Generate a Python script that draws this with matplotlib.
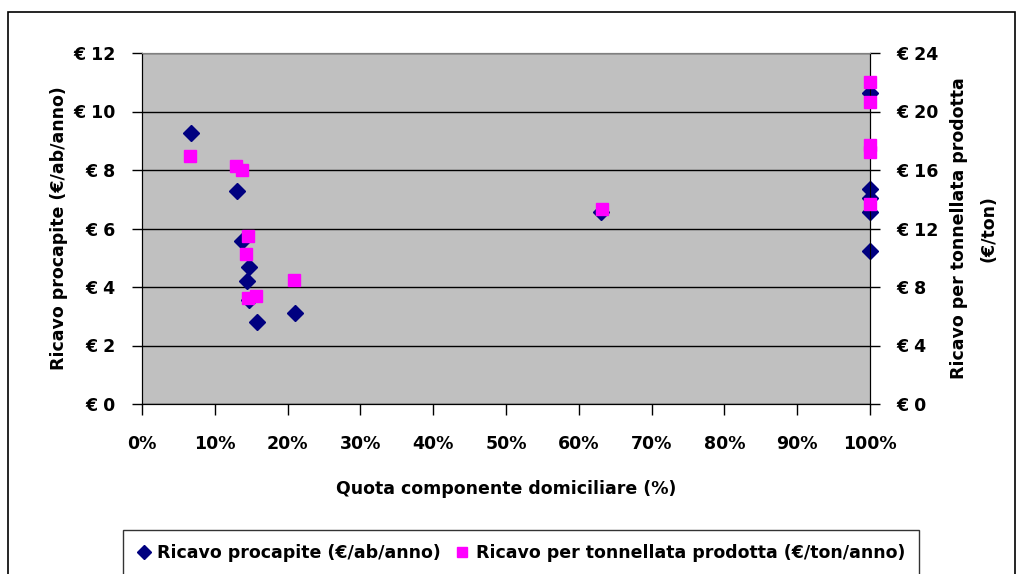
import matplotlib
matplotlib.use("Agg")
import matplotlib.pyplot as plt
from matplotlib.lines import Line2D
from matplotlib.patches import Rectangle
from matplotlib.ticker import FuncFormatter, MultipleLocator

plt.rcParams['font.family'] = ['DejaVu Sans']
plt.rcParams['font.weight'] = 'bold'

# quota componente domiciliare (frazione) e ricavo procapite (€/ab/anno)
quota_procapite = [0.067, 0.130, 0.138, 0.147, 0.144, 0.147, 0.158, 0.210,
                   0.631, 1.0, 1.0, 1.0, 1.0, 1.0]
ricavo_procapite = [9.26, 7.28, 5.58, 4.69, 4.20, 3.55, 2.79, 3.12,
                    6.56, 10.62, 7.34, 7.05, 6.58, 5.24]

# quota componente domiciliare e ricavo per tonnellata prodotta (€/ton/anno)
quota_ton = [0.066, 0.129, 0.137, 0.146, 0.143, 0.209, 0.146, 0.157,
             0.632, 1.0, 1.0, 1.0, 1.0, 1.0]
ricavo_ton = [16.96, 16.27, 16.0, 11.51, 10.28, 8.48, 7.27, 7.41,
              13.33, 22.0, 20.63, 17.7, 17.2, 13.68]

label_procapite = 'Ricavo procapite (€/ab/anno)'
label_ton = 'Ricavo per tonnellata prodotta (€/ton/anno)'

blue = '#000080'
pink = '#FF00FF'
fs = 12.5

fig = plt.figure(figsize=(10.2, 5.74), dpi=100)
ax = fig.add_axes([142 / 1020, 1 - 404 / 574, 728 / 1020, 351 / 574])
ax2 = ax.twinx()

# outer chart border
fig.patches.append(Rectangle((8 / 1020, -0.05), 1007 / 1020, 1.05 - 12 / 574,
                             transform=fig.transFigure, fill=False,
                             edgecolor='black', linewidth=1.2))

ax.set_facecolor('#C0C0C0')
ax.set_xlim(0, 1)
ax.set_ylim(0, 12)
ax2.set_ylim(0, 24)
ax.yaxis.set_major_locator(MultipleLocator(2))
ax2.yaxis.set_major_locator(MultipleLocator(4))
ax.xaxis.set_major_locator(MultipleLocator(0.1))
ax.grid(True, axis='y', color='black', linewidth=1)
ax.set_axisbelow(True)

euro = FuncFormatter(lambda v, p: '€ %d' % v)
ax.yaxis.set_major_formatter(euro)
ax2.yaxis.set_major_formatter(euro)
ax.xaxis.set_major_formatter(FuncFormatter(lambda v, p: '%d%%' % round(v * 100)))

for a in (ax, ax2):
    a.tick_params(axis='y', labelsize=fs, length=7, color='black', width=1, pad=12)
    for s in a.spines.values():
        s.set_color('#808080')
    a.spines['left'].set_color('black')
    a.spines['right'].set_color('black')
    a.spines['bottom'].set_color('black')
ax.tick_params(axis='x', labelsize=fs, length=8, color='black', width=1, pad=14)

ax.plot(quota_procapite, ricavo_procapite, linestyle='none', marker='D',
        ms=8.5, color=blue, clip_on=False, zorder=3)
ax2.plot(quota_ton, ricavo_ton, linestyle='none', marker='s',
         ms=8.5, color=pink, clip_on=False, zorder=3)

ax.set_ylabel(label_procapite, fontsize=fs, fontweight='bold', labelpad=4)
ax2.set_ylabel('Ricavo per tonnellata prodotta\n(€/ton)', fontsize=fs,
               fontweight='bold', labelpad=8, linespacing=1.85)
ax.set_xlabel('Quota componente domiciliare (%)', fontsize=fs,
              fontweight='bold', labelpad=20)

handles = [Line2D([], [], linestyle='none', marker='D', ms=7, color=blue),
           Line2D([], [], linestyle='none', marker='s', ms=7, color=pink)]
leg = fig.legend(handles, [label_procapite, label_ton],
                 loc='center', bbox_to_anchor=(521 / 1020, 1 - 553 / 574),
                 ncol=2, fontsize=fs, frameon=True, fancybox=False,
                 handlelength=0.8, handletextpad=0.4, columnspacing=0.8,
                 borderpad=0.8)
leg.get_frame().set_edgecolor('black')
leg.get_frame().set_linewidth(1)

fig.savefig('out.png', dpi=100)
